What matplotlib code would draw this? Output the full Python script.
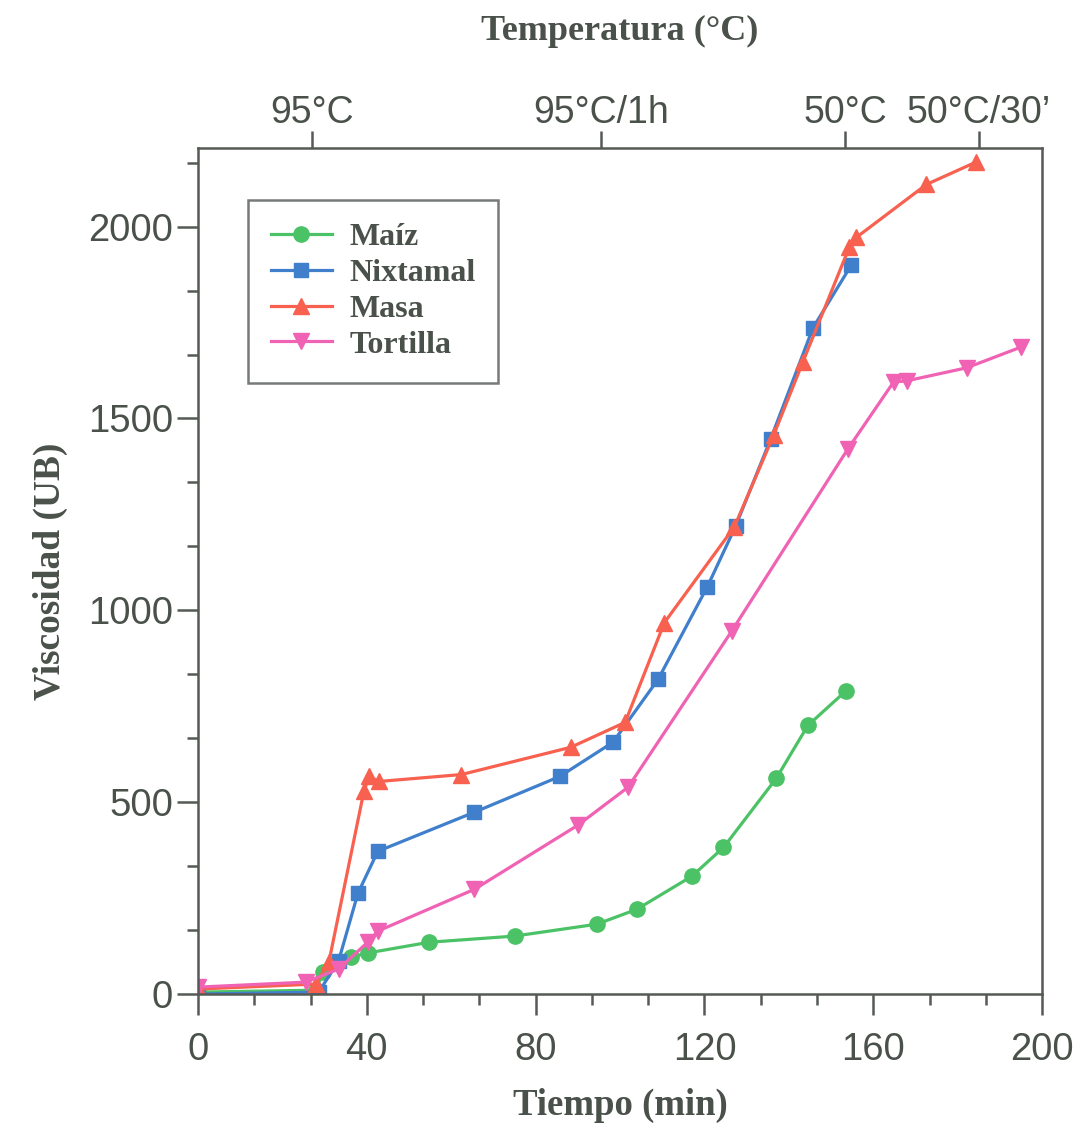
import matplotlib.pyplot as plt
from matplotlib.ticker import MultipleLocator, AutoMinorLocator

# Maiz
maiz_t = [0, 28, 29.5, 36.2, 40.2, 54.8, 75, 94.5, 104, 117, 124.5, 137, 144.5, 153.6]
maiz_v = [5, 10, 57, 96, 107, 135, 151, 182, 221, 307, 382, 562, 700, 791]

# Nixtamal
nix_t = [0, 28.6, 33.3, 37.9, 42.6, 65.5, 85.7, 98.3, 109, 120.7, 127.4, 135.7, 145.7, 154.8]
nix_v = [0, 5, 86, 263, 372, 474, 567, 656, 820, 1062, 1220, 1447, 1736, 1900]

# Masa
masa_t = [0, 27.9, 31, 39.3, 40.5, 42.9, 62.4, 88.3, 101.2, 110.5, 127.1, 136.4, 143.3, 154.3, 156, 172.6, 184.3]
masa_v = [13, 26, 83, 528, 567, 554, 572, 643, 708, 968, 1218, 1457, 1647, 1946, 1972, 2110, 2168]

# Tortilla
tort_t = [0, 25.5, 33.3, 40.2, 42.6, 65.5, 90, 101.9, 126.4, 154, 164.8, 167.9, 182.1, 195]
tort_v = [18, 31, 65, 135, 164, 273, 440, 539, 945, 1421, 1595, 1598, 1632, 1686]

temp_pos = [27, 95.5, 153.3, 185]
temp_lab = ["95°C", "95°C/1h", "50°C", "50°C/30’"]

txt = "#4a514a"
edge = "#555a55"

fig = plt.figure(figsize=(10.85, 11.26), dpi=100)
ax = fig.add_axes([0.1825, 0.1172, 0.778, 0.7514])

ax.plot(maiz_t, maiz_v, color="#4cc266", marker="o", ms=11, lw=2.3, label="Maíz")
ax.plot(nix_t, nix_v, color="#3f7fcc", marker="s", ms=10.5, lw=2.3, label="Nixtamal")
ax.plot(masa_t, masa_v, color="#f8604f", marker="^", ms=12, lw=2.3, label="Masa")
ax.plot(tort_t, tort_v, color="#f062b4", marker="v", ms=12, lw=2.3, label="Tortilla")

ax.set_xlim(0, 200)
ax.set_ylim(0, 2205)
ax.xaxis.set_major_locator(MultipleLocator(40))
ax.xaxis.set_minor_locator(AutoMinorLocator(3))
ax.yaxis.set_major_locator(MultipleLocator(500))
ax.yaxis.set_minor_locator(AutoMinorLocator(3))

for s in ax.spines.values():
    s.set_color(edge)
    s.set_linewidth(1.8)

ax.tick_params(which="major", direction="out", length=15, width=1.8, color=edge,
               labelsize=27.5, labelcolor=txt)
ax.tick_params(which="minor", direction="out", length=8, width=1.8, color=edge)
ax.tick_params(axis="x", which="major", pad=12)
ax.tick_params(axis="y", which="major", pad=3)
for lab in ax.get_xticklabels() + ax.get_yticklabels():
    lab.set_family("Liberation Sans")

ax.set_xlabel("Tiempo (min)", family="Liberation Serif", weight="bold", fontsize=26.5,
              color=txt, labelpad=15)
ax.set_ylabel("Viscosidad (UB)", family="Liberation Serif", weight="bold", fontsize=27,
              color=txt, labelpad=14)

top = ax.twiny()
top.set_xlim(ax.get_xlim())
top.set_xticks(temp_pos)
top.set_xticklabels(temp_lab, family="Liberation Sans", fontsize=27, color=txt)
top.tick_params(direction="out", length=12, width=1.8, color=edge, pad=0)
for s in top.spines.values():
    s.set_visible(False)
top.set_xlabel("Temperatura (°C)", family="Liberation Serif", weight="bold",
               fontsize=26, color=txt, labelpad=40)

leg = ax.legend(loc="upper left", bbox_to_anchor=(0.059, 0.9385), frameon=True,
                fancybox=False, prop={"family": "Liberation Serif", "weight": "bold", "size": 23},
                labelcolor=txt, handlelength=1.9, handletextpad=0.55, borderpad=0.72,
                labelspacing=0.2, borderaxespad=0)
leg.get_frame().set_edgecolor(edge)
leg.get_frame().set_linewidth(1.8)

fig.savefig("out.png", dpi=100)
plt.close()
